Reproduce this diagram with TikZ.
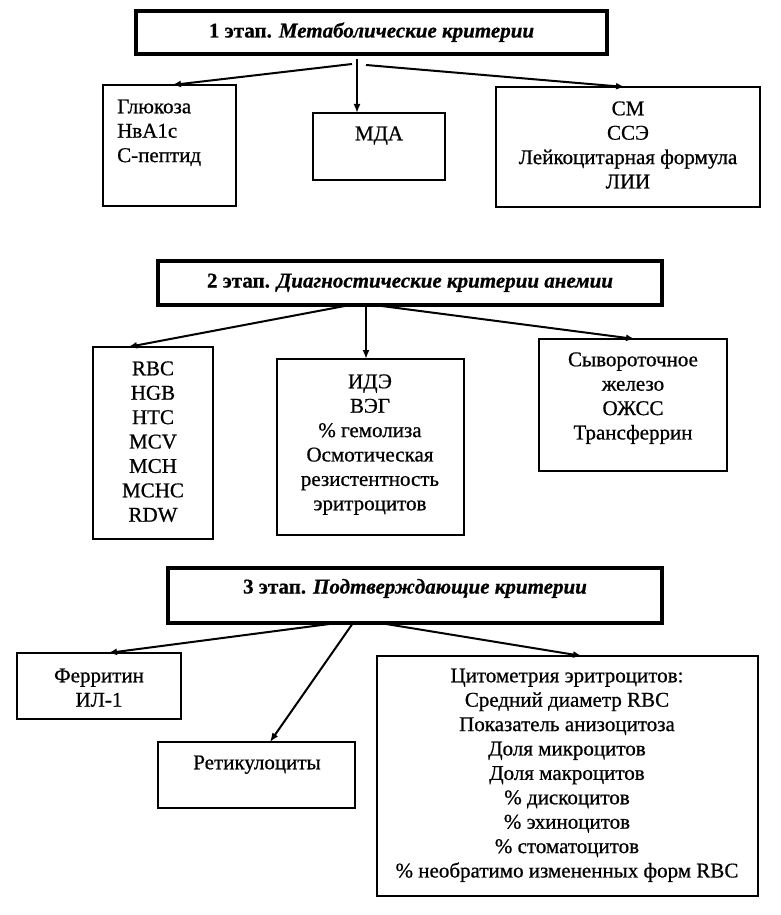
\documentclass[tikz,border=0pt]{standalone}
\usepackage{fontspec}
\setmainfont{Liberation Serif}[FakeBold=0.7]
\usetikzlibrary{arrows.meta,calc}
\begin{document}
\begin{tikzpicture}[x=1pt,y=-1pt,
  box/.style={draw, line width=2.8pt, inner sep=0pt, outer sep=0pt, anchor=north west},
  hbox/.style={draw, line width=3.2pt, inner sep=0pt, outer sep=0pt, anchor=north west},
  txt/.style={font=\fontsize{21}{24.4}\selectfont, align=center, anchor=north, inner sep=0pt},
  ltxt/.style={font=\fontsize{21}{24.4}\selectfont, align=left, anchor=north west, inner sep=0pt},
  htxt/.style={font=\fontsize{21}{24}\selectfont, anchor=base, inner sep=0pt},
  arr/.style={line width=2pt, -{Latex[length=9pt,width=7pt]}}]
\useasboundingbox[fill=white] (0,0) rectangle (780,915);

% ---------- stage 1 ----------
\node[hbox, minimum width=471pt, minimum height=43pt] (h1) at (136,11) {};
\node[htxt] (h1t) at (371.5,37.5) {\bfseries 1 этап. \itshape Метаболические критерии};
\node[box, minimum width=133pt, minimum height=121pt] (b11) at (103,85) {};
\node[box, minimum width=132pt, minimum height=67pt] (b12) at (313,113) {};
\node[box, minimum width=264pt, minimum height=120pt] (b13) at (496,87) {};
\node[ltxt] (t11) at (117,96) {\strut Глюкоза\\НвА1с\\С-пептид};
\node[txt] (t12) at (379,123) {\strut МДА};
\node[txt] (t13) at (628,98) {\strut СМ\\ССЭ\\Лейкоцитарная формула\\ЛИИ};
\coordinate (o1l) at (352,64);
\coordinate (o1m) at (357,59);
\coordinate (o1r) at (366,65);
\draw[arr] (o1l) -- (172,0 |- b11.north);
\draw[arr] (o1m) -- (357,0 |- b12.north);
\draw[arr] (o1r) -- (625,0 |- b13.north);

% ---------- stage 2 ----------
\node[hbox, minimum width=504pt, minimum height=44pt] (h2) at (158,261) {};
\node[htxt] (h2t) at (410,287.5) {\bfseries 2 этап. \itshape Диагностические критерии анемии};
\node[box, minimum width=120pt, minimum height=192pt] (b21) at (93,347) {};
\node[box, minimum width=187pt, minimum height=176pt] (b22) at (277,359) {};
\node[box, minimum width=188pt, minimum height=132pt] (b23) at (539,339) {};
\node[txt] (t21) at (153,358) {\strut RBC\\HGB\\HTC\\MCV\\MCH\\MCHC\\RDW};
\node[txt] (t22) at (370,371) {\strut ИДЭ\\ВЭГ\\\% гемолиза\\Осмотическая\\резистентность\\эритроцитов};
\node[txt] (t23) at (633,349) {\strut Сывороточное\\железо\\ОЖСС\\Трансферрин};
\draw[arr] (350,0 |- h2.south) -- (128,0 |- b21.north);
\draw[arr] (366,0 |- h2.south) -- (366,0 |- b22.north);
\draw[arr] (374,0 |- h2.south) -- (635,0 |- b23.north);

% ---------- stage 3 ----------
\node[hbox, minimum width=494pt, minimum height=55pt] (h3) at (168,568) {};
\node[htxt] (h3t) at (415,593.5) {\bfseries 3 этап. \itshape Подтверждающие критерии};
\node[box, minimum width=164pt, minimum height=66pt] (b31) at (17,653) {};
\node[box, minimum width=197pt, minimum height=66pt] (b32) at (158,742) {};
\node[box, minimum width=381pt, minimum height=240pt] (b33) at (377,656) {};
\node[txt] (t31) at (99,665) {\strut Ферритин\\ИЛ-1};
\node[txt] (t32) at (257,752) {\strut Ретикулоциты};
\node[txt] (t33) at (567,665) {\strut Цитометрия эритроцитов:\\Средний диаметр RBC\\Показатель анизоцитоза\\Доля микроцитов\\Доля макроцитов\\\% дискоцитов\\\% эхиноцитов\\\% стоматоцитов\\\% необратимо измененных форм RBC};
\draw[arr] (337,0 |- h3.south) -- (108,0 |- b31.north);
\draw[arr] (353,0 |- h3.south) -- (270,0 |- b32.north);
\draw[arr] (380,0 |- h3.south) -- (582,0 |- b33.north);
\end{tikzpicture}
\end{document}
